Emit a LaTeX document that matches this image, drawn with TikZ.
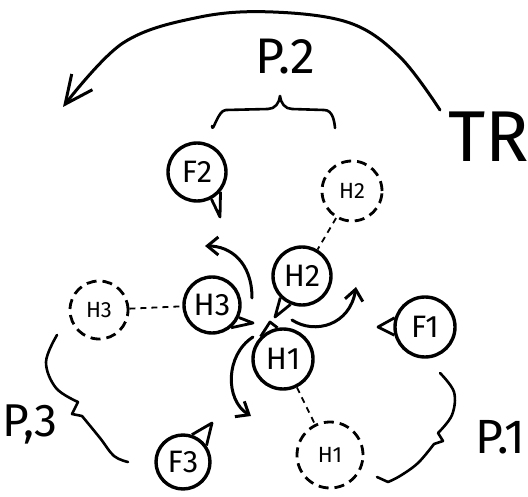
\documentclass[tikz,border=0pt]{standalone}
\usepackage{fontspec}
\setmainfont{Fira Sans}
\usetikzlibrary{arrows.meta,calc}
\tikzset{
  solidc/.style={circle,draw,line width=3.4pt,minimum size=#1,inner sep=0pt,font=\fontsize{31}{31}\selectfont},
  dashc/.style={circle,draw,line width=2.8pt,dash pattern=on 10pt off 6pt,minimum size=#1,inner sep=0pt,font=\fontsize{22}{22}\selectfont},
  tail/.style={line width=2.8pt,line join=round},
  link/.style={line width=1.8pt,dash pattern=on 6pt off 5pt},
  rot/.style={line width=3pt,line cap=round,-{Straight Barb[length=11pt,width=18pt,line width=3pt]}},
  brace/.style={line width=2.6pt,line cap=round,line join=round},
  lab/.style={font=\fontsize{50}{50}\selectfont,inner sep=0pt}
}
\begin{document}
\begin{tikzpicture}[x=1pt,y=-1pt]
\useasboundingbox (0,0) rectangle (528,497);
% solid nodes
\node[solidc=58pt] (F2) at (197,172) {F2};
\node[solidc=56pt] (H3) at (212,305) {H3};
\node[solidc=58pt] (H2) at (302,276) {H2};
\node[solidc=60pt] (H1) at (283,359) {H1};
\node[solidc=60pt] (F1) at (425,327) {F1};
\node[solidc=54pt] (F3) at (183,462) {F3};
% dashed nodes
\node[dashc=60pt] (H2d) at (352,191) {H2};
\node[dashc=58pt] (H3d) at (99,310) {H3};
\node[dashc=66pt] (H1d) at (330,455) {H1};
% tails
\draw[tail] (F2.-40) -- ($(F2.center)+(23,45)$) -- (F2.-62);
\draw[tail] (H3.-25) -- ($(H3.center)+(41,18)$) -- (H3.-50);
\draw[tail] (H2.-112) -- ($(H2.center)+(-27,41)$) -- (H2.-135);
\draw[tail] (H1.100) -- ($(H1.center)+(-13,-37)$) -- (H1.135);
\draw[tail] (F1.163) -- ($(F1.center)+(-47,0)$) -- (F1.195);
\draw[tail] (F3.72) -- ($(F3.center)+(29,-39)$) -- (F3.35);
% dashed links
\draw[link] (H2d) -- (H2);
\draw[link] (H3d) -- (H3);
\draw[link] (H1) -- (H1d);
% rotation arrows
\coordinate (a1) at (252,298);
\coordinate (a2) at (205,246);
\draw[rot] (a1) .. controls (252,262) and (230,246) .. (a2);
\coordinate (b1) at (292,320);
\coordinate (b2) at (356,287);
\draw[rot] (b1) .. controls (315,335) and (350,325) .. (b2);
\coordinate (c1) at (253,337);
\coordinate (c2) at (251,416);
\draw[rot] (c1) .. controls (225,355) and (225,400) .. (c2);
% big arrow
\node[lab,font=\fontsize{72}{72}\selectfont] (TR) at (489,137) {TR};
\coordinate (t1) at (440,110);
\coordinate (t2) at (63,107);
\draw[line width=3pt,line cap=round,-{Straight Barb[length=28pt,width=26pt,line width=3pt]}]
  plot[smooth,tension=0.6] coordinates {(t1) (400,57) (350,23) (273,12) (200,17) (123,43) (t2)};
% P.2 brace
\node[lab] (P2) at (285,57) {P.2};
\draw[brace] (212,126) to[out=-85,in=180] (226,110) -- (268,109) to[out=0,in=-95] (280,96)
  to[out=-85,in=180] (292,109) -- (324,110) to[out=0,in=95] (335,128);
% P.3 brace
\node[lab,font=\fontsize{46}{46}\selectfont] (P3) at (30,424) {P,3};
\draw[brace] plot[smooth,tension=0.6] coordinates {(57,335) (46,362) (56,388) (78,402)}
  -- (72,414) -- (82,416);
\draw[brace] plot[smooth,tension=0.6] coordinates {(82,416) (100,438) (114,456) (128,462)};
% P.1 brace
\node[lab,font=\fontsize{48}{48}\selectfont] (P1) at (500,437) {P.1};
\draw[brace] plot[smooth,tension=0.6] coordinates {(440,373) (454,392) (452,415) (438,433)}
  -- (443,441) -- (434,444);
\draw[brace] plot[smooth,tension=0.6] coordinates {(434,444) (418,463) (400,476) (388,482)} -- (377,477);
\end{tikzpicture}
\end{document}
